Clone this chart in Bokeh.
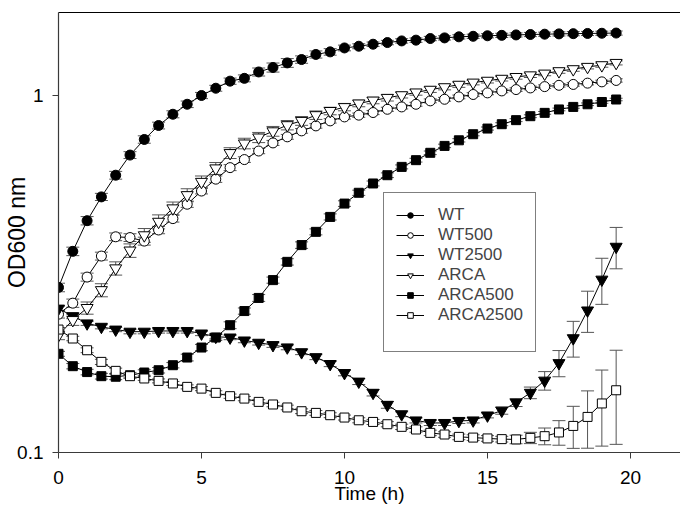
from bokeh.plotting import figure
from bokeh.models import (ColumnDataSource, Whisker, TeeHead, Legend, LegendItem,
                          FixedTicker, LinearAxis, NumeralTickFormatter, Range1d)
from bokeh.embed import file_html
from bokeh.resources import INLINE

# ---------------- data ----------------
time_h = [0, 0.5, 1, 1.5, 2, 2.5, 3, 3.5, 4, 4.5, 5, 5.5, 6, 6.5, 7, 7.5, 8, 8.5, 9, 9.5,
          10, 10.5, 11, 11.5, 12, 12.5, 13, 13.5, 14, 14.5, 15, 15.5, 16, 16.5, 17, 17.5,
          18, 18.5, 19, 19.5]

wt = [0.29, 0.366, 0.446, 0.52, 0.598, 0.681, 0.753, 0.824, 0.886, 0.945, 1.0, 1.048, 1.097,
      1.117, 1.164, 1.198, 1.234, 1.261, 1.303, 1.325, 1.359, 1.374, 1.392, 1.407, 1.422,
      1.429, 1.444, 1.45, 1.46, 1.465, 1.47, 1.474, 1.478, 1.482, 1.485, 1.488, 1.49, 1.492,
      1.494, 1.496]
wt_err = [0.008, 0.01, 0.012, 0.012, 0.015, 0.015, 0.018, 0.018, 0.02, 0.02, 0.02, 0.02, 0.022,
          0.025, 0.03, 0.035, 0.035, 0.03, 0.03, 0.028, 0.025, 0.022, 0.02, 0.02, 0.02,
          0.02, 0.02, 0.02, 0.02, 0.02, 0.02, 0.02, 0.02, 0.02, 0.02, 0.02, 0.02, 0.02,
          0.02, 0.02]

wt500 = [0.244, 0.262, 0.310, 0.355, 0.402, 0.400, 0.391, 0.42, 0.452, 0.496, 0.540, 0.583,
         0.628, 0.6615, 0.699, 0.7365, 0.766, 0.796, 0.822, 0.849, 0.871, 0.881, 0.896, 0.915,
         0.929, 0.945, 0.966, 0.976, 0.991, 1.0065, 1.017, 1.030, 1.039, 1.050, 1.059, 1.068,
         1.074, 1.083, 1.092, 1.102]
wt500_err = [0.006, 0.007, 0.008, 0.009, 0.01, 0.01, 0.01, 0.01, 0.01, 0.01, 0.01, 0.012, 0.012,
             0.012, 0.012, 0.012, 0.012, 0.012, 0.012, 0.012, 0.012, 0.012, 0.012, 0.012,
             0.012, 0.012, 0.012, 0.012, 0.012, 0.012, 0.012, 0.012, 0.012, 0.012, 0.012,
             0.012, 0.012, 0.012, 0.012, 0.012]

wt2500 = [0.253, 0.241, 0.230, 0.225, 0.221, 0.218, 0.218, 0.219, 0.219, 0.219, 0.2155, 0.211,
          0.210, 0.206, 0.203, 0.200, 0.197, 0.191, 0.185, 0.177, 0.167, 0.158, 0.147, 0.136,
          0.128, 0.123, 0.121, 0.121, 0.1226, 0.123, 0.127, 0.131, 0.138, 0.147, 0.159, 0.178,
          0.209, 0.250, 0.305, 0.377]
wt2500_err = [0.004, 0.004, 0.003, 0.003, 0.003, 0.003, 0.003, 0.003, 0.003, 0.003, 0.003,
              0.003, 0.003, 0.003, 0.003, 0.003, 0.003, 0.003, 0.003, 0.003, 0.003, 0.003,
              0.003, 0.003, 0.002, 0.002, 0.002, 0.002, 0.002, 0.002, 0.002, 0.003, 0.0035,
              0.0055, 0.0095, 0.015, 0.024, 0.033, 0.045, 0.05]

arca = [0.213, 0.235, 0.254, 0.285, 0.328, 0.368, 0.406, 0.443, 0.483, 0.526, 0.573, 0.625,
        0.69, 0.734, 0.763, 0.794, 0.826, 0.849, 0.881, 0.905, 0.928, 0.95, 0.968, 0.985,
        1.002, 1.02, 1.038, 1.055, 1.072, 1.087, 1.10, 1.114, 1.127, 1.139, 1.152, 1.17,
        1.185, 1.203, 1.216, 1.234]
arca_err = [0.006, 0.008, 0.01, 0.012, 0.014, 0.016, 0.018, 0.02, 0.02, 0.022, 0.022, 0.024,
            0.024, 0.025, 0.025, 0.025, 0.025, 0.024, 0.024, 0.022, 0.022, 0.02, 0.02, 0.02,
            0.018, 0.018, 0.018, 0.018, 0.018, 0.016, 0.016, 0.016, 0.016, 0.016, 0.016,
            0.016, 0.016, 0.016, 0.016, 0.016]

arca500 = [0.189, 0.1745, 0.168, 0.1636, 0.163, 0.1646, 0.1675, 0.170, 0.1756, 0.1845, 0.1968,
           0.2099, 0.2273, 0.249, 0.271, 0.304, 0.342, 0.381, 0.415, 0.457, 0.498, 0.534,
           0.567, 0.598, 0.631, 0.659, 0.691, 0.7225, 0.749, 0.779, 0.808, 0.831, 0.853,
           0.875, 0.894, 0.914, 0.929, 0.945, 0.959, 0.9745]
arca500_err = [0.003, 0.003, 0.003, 0.003, 0.003, 0.003, 0.003, 0.003, 0.003, 0.004, 0.004,
               0.004, 0.005, 0.005, 0.006, 0.006, 0.007, 0.008, 0.008, 0.009, 0.009, 0.009,
               0.009, 0.009, 0.008, 0.008, 0.008, 0.008, 0.008, 0.008, 0.008, 0.008, 0.008,
               0.008, 0.008, 0.008, 0.008, 0.008, 0.008, 0.008]

arca2500 = [0.221, 0.2086, 0.1934, 0.1794, 0.1693, 0.1636, 0.1612, 0.1587, 0.1561, 0.1527,
            0.151, 0.1469, 0.1438, 0.1416, 0.1386, 0.1363, 0.1337, 0.1305, 0.1291, 0.1272,
            0.1253, 0.1231, 0.1218, 0.12, 0.118, 0.116, 0.1135, 0.1123, 0.1106, 0.1101,
            0.1095, 0.109, 0.1088, 0.1099, 0.1111, 0.1138, 0.1187, 0.1258, 0.1372, 0.1494]
arca2500_err = [0.003, 0.003, 0.003, 0.003, 0.003, 0.002, 0.002, 0.002, 0.002, 0.002, 0.002,
                0.002, 0.002, 0.002, 0.002, 0.002, 0.002, 0.002, 0.002, 0.002, 0.002, 0.002,
                0.002, 0.002, 0.002, 0.002, 0.002, 0.002, 0.002, 0.002, 0.002, 0.002, 0.003,
                0.004, 0.006, 0.009, 0.016, 0.023, 0.033, 0.044]

series_names = ["WT", "WT500", "WT2500", "ARCA", "ARCA500", "ARCA2500"]
x_ticks = [0, 5, 10, 15, 20]
y_ticks = [0.1, 1]

FONT = "Liberation Sans"

p = figure(width=680, height=507, y_axis_type="log",
           x_range=Range1d(0, 21.75), y_range=Range1d(0.1, 1.708),
           output_backend="svg", toolbar_location=None,
           min_border_left=58, min_border_right=0, min_border_top=12, min_border_bottom=55)
p.outline_line_color = None
p.xgrid.visible = False
p.ygrid.visible = False
p.background_fill_color = "white"
p.border_fill_color = "white"

AX = "#3a3a3a"
for ax in (p.xaxis[0], p.yaxis[0]):
    ax.axis_line_color = AX
    ax.axis_line_width = 1.2
    ax.major_tick_line_color = AX
    ax.major_tick_in = 0
    ax.major_tick_out = 6
    ax.minor_tick_line_color = None
    ax.major_label_text_font = FONT
    ax.major_label_text_font_size = "19px"
    ax.major_label_text_color = "black"
    ax.axis_label_text_font = FONT
    ax.axis_label_text_font_style = "normal"
    ax.axis_label_text_color = "black"

p.xaxis[0].ticker = FixedTicker(ticks=x_ticks, minor_ticks=[])
p.xaxis[0].major_label_standoff = 12
p.xaxis[0].axis_label = "Time (h)"
p.xaxis[0].axis_label_text_font_size = "19px"
p.xaxis[0].axis_label_standoff = -4
p.yaxis[0].ticker = FixedTicker(ticks=y_ticks, minor_ticks=[])
p.yaxis[0].formatter = NumeralTickFormatter(format="0.[0]")
p.yaxis[0].major_label_standoff = 9
p.yaxis[0].axis_label = "OD600 nm"
p.yaxis[0].axis_label_text_font_size = "23px"
p.yaxis[0].axis_label_standoff = -16

top = LinearAxis(ticker=FixedTicker(ticks=[], minor_ticks=[]), axis_line_color="black",
                 axis_line_width=1.2, major_tick_out=0, major_tick_in=0,
                 minor_tick_out=0, minor_tick_in=0)
p.add_layout(top, "above")

styles = {
    "WT": dict(marker="circle", size=10, fill_color="black"),
    "WT500": dict(marker="circle", size=10, fill_color="white"),
    "WT2500": dict(marker="inverted_triangle", size=12, fill_color="black"),
    "ARCA": dict(marker="inverted_triangle", size=12, fill_color="white"),
    "ARCA500": dict(marker="square", size=9, fill_color="black"),
    "ARCA2500": dict(marker="square", size=9, fill_color="white"),
}
values = {"WT": (wt, wt_err), "WT500": (wt500, wt500_err), "WT2500": (wt2500, wt2500_err),
          "ARCA": (arca, arca_err), "ARCA500": (arca500, arca500_err),
          "ARCA2500": (arca2500, arca2500_err)}

line_rs = {}
for name in series_names:
    ys, es = values[name]
    src = ColumnDataSource(dict(x=time_h, y=ys,
                                lo=[a - b for a, b in zip(ys, es)],
                                hi=[a + b for a, b in zip(ys, es)]))
    w = Whisker(base="x", upper="hi", lower="lo", source=src, dimension="height",
                line_color="#555555", line_width=1,
                upper_head=TeeHead(size=13, line_color="#555555", line_width=1),
                lower_head=TeeHead(size=13, line_color="#555555", line_width=1),
                level="underlay")
    p.add_layout(w)
    lr = p.line("x", "y", source=src, line_color="black", line_width=1)
    line_rs[name] = (lr, src)

items = []
for name in series_names:
    lr, src = line_rs[name]
    st = styles[name]
    sr = p.scatter("x", "y", source=src, marker=st["marker"], size=st["size"],
                   fill_color=st["fill_color"], line_color="black", line_width=1)
    items.append(LegendItem(label=name, renderers=[lr, sr]))

# one blank row to reproduce the tall legend box
blank = p.scatter(x=[], y=[], size=1, fill_alpha=0, line_alpha=0)
items.append(LegendItem(label=" ", renderers=[blank]))

legend = Legend(items=items, location=(325, 100), margin=0, padding=12, spacing=0,
                glyph_width=28, glyph_height=14, label_height=14, label_standoff=14,
                label_text_font=FONT, label_text_font_size="17px",
                border_line_color="black", border_line_width=1,
                background_fill_color="white", background_fill_alpha=1)
p.add_layout(legend, "center")

open("out.html", "w").write(file_html(p, INLINE))
